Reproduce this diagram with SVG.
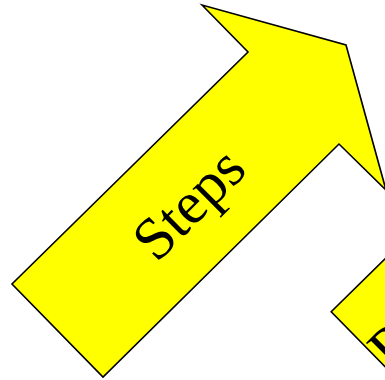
<svg xmlns="http://www.w3.org/2000/svg" width="385" height="380" viewBox="0 0 385 380">
<style>
.arrow{fill:#ffff00;stroke:#000;stroke-width:1.6;stroke-linejoin:miter}
.lbl{font-family:"Liberation Serif","Times New Roman",serif;font-size:60px;fill:#000}
</style>
<rect width="385" height="380" fill="#fff"/>
<g id="connectors"></g>
<g id="node-steps">
<polygon class="arrow" points="202,5 248,52 12,284 103,377 339,144 386,190 346,45"/>
<text class="lbl" x="202.7" y="217.7" text-anchor="middle" transform="rotate(-45 202.7 217.7)">Steps</text>
</g>
<g id="node-2">
<polygon class="arrow" transform="translate(319.2 27.7)" points="202,5 248,52 12,284 103,377 339,144 386,190 346,45"/>
<text class="lbl" x="392.5" y="372" transform="rotate(-45 392.5 372)">P</text>
</g>
</svg>
